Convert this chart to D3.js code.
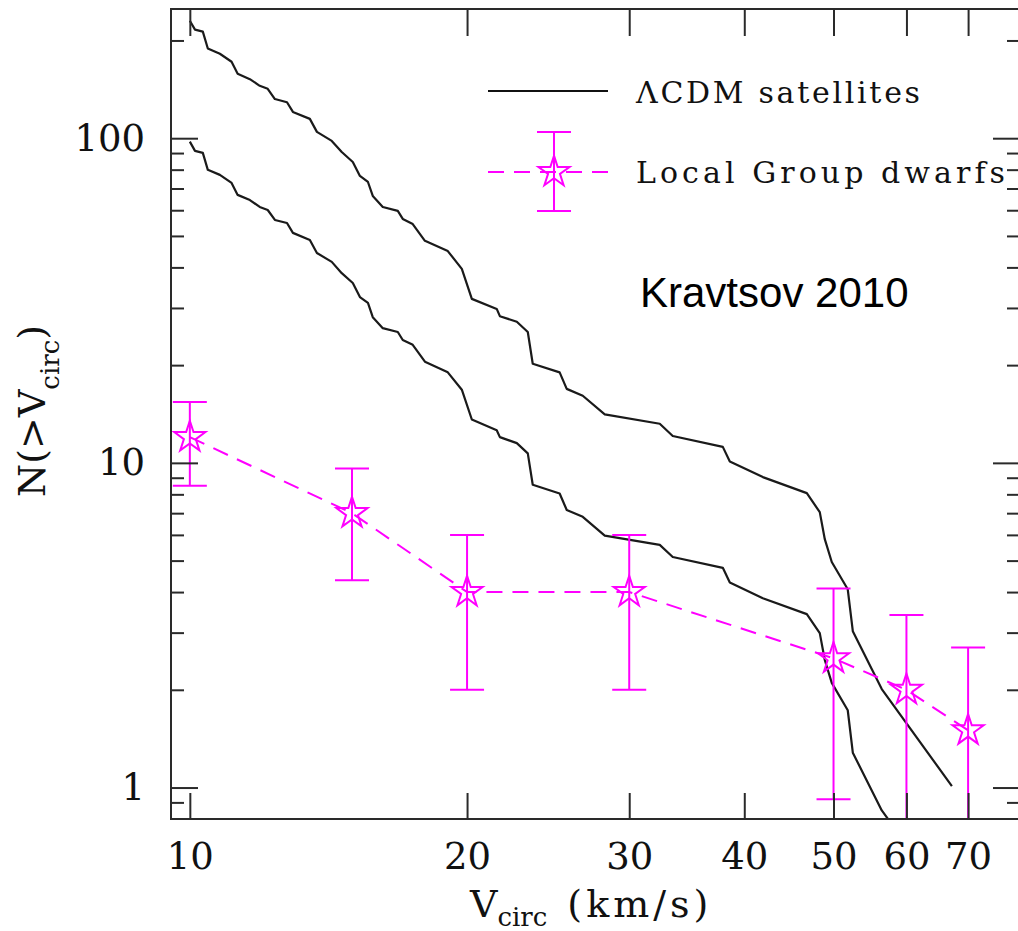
<!DOCTYPE html>
<html>
<head>
<meta charset="utf-8">
<script src="https://cdn.jsdelivr.net/npm/d3@7"></script>
<style>
  html, body { margin: 0; padding: 0; background: #fff; }
  svg { display: block; }
</style>
</head>
<body>
<svg id="chart" width="1018" height="931"></svg>
<script>
// ---------- DATA ----------
const vcircSat = [10.0,10.13,10.33,10.46,10.78,11.10,11.27,11.62,11.91,12.15,12.37,12.75,12.94,13.50,13.74,14.26,14.62,15.03,15.30,15.61,15.80,16.20,16.82,17.03,17.46,18.00,19.06,19.74,20.24,21.54,21.71,22.65,23.28,23.57,25.21,25.66,26.71,28.22,32.38,33.45,37.91,38.58,41.90,46.77,48.31,48.92,49.78,51.81,52.47,56.41,67.22];
const nSatUpper = [230,216,213,189,182,172,158,152,145,142,132,129,120.5,114.7,104.6,98.1,90.7,84.5,76.5,73.3,66.4,61.4,59.7,56.4,54.4,48.3,44.9,39.6,32.0,29.8,28.3,27.2,25.3,20.2,19.0,16.9,16.1,14.1,13.2,12.1,11.2,10.1,9.04,8.07,7.05,5.82,4.95,4.08,3.03,2.01,1.01];
const nSatLower = [97.6,91.4,90.1,79.9,77.1,72.8,66.9,64.5,61.4,60.1,56.0,54.8,51.1,48.6,44.3,41.6,38.4,35.8,32.4,31.1,28.1,26.0,25.3,23.9,23.1,20.5,19.0,16.8,13.6,12.6,12.0,11.5,10.7,8.56,8.05,7.16,6.82,5.97,5.59,5.13,4.75,4.28,3.83,3.42,2.99,2.47,2.10,1.73,1.28,0.85,0.43];

const vcircLG = [10, 15, 20, 30, 50, 60, 70];
const nLG     = [12, 7, 4, 4, 2.5, 2, 1.5];
const nLGHigh = [15.4, 9.6, 6.0, 6.0, 4.1, 3.4, 2.7];
const nLGLow  = [8.5, 4.35, 2.0, 2.0, 0.92, 0.59, 0.28];

const xTickValues = [10, 20, 30, 40, 50, 60, 70];
const yMajorTicks = [1, 10, 100];
const yMinorTicks = [0.9, 2, 3, 4, 5, 6, 7, 8, 9, 20, 30, 40, 50, 60, 70, 80, 90, 200];

const legendLabels = ["\u039BCDM satellites", "Local Group dwarfs"];
const annotation = "Kravtsov 2010";

// ---------- LAYOUT ----------
const L = 171, R = 1020, T = 9, B = 819;
const axisColor = "#2a2a2a";
const magenta = "#ff00ff";
const serif = "'DejaVu Serif', 'Liberation Serif', serif";

const svg = d3.select("#chart");

const x = d3.scaleLog().domain([9.54, 79.7]).range([L, R]);
const y = d3.scaleLog().domain([0.8, 250]).range([B, T]);

svg.append("defs").append("clipPath").attr("id", "plotClip")
  .append("rect").attr("x", L).attr("y", T).attr("width", R - L).attr("height", B - T);

const plot = svg.append("g").attr("clip-path", "url(#plotClip)");

// ΛCDM curves
const line = d3.line().x(d => x(d[0])).y(d => y(d[1]));
[nSatUpper, nSatLower].forEach(arr => {
  plot.append("path")
    .datum(vcircSat.map((v, i) => [v, arr[i]]))
    .attr("d", line)
    .attr("fill", "none")
    .attr("stroke", "#1a1a1a")
    .attr("stroke-width", 2.2)
    .attr("stroke-linejoin", "round");
});

// Local Group dwarfs
const lg = vcircLG.map((v, i) => ({ v, n: nLG[i], hi: nLGHigh[i], lo: nLGLow[i] }));

plot.append("path")
  .datum(lg)
  .attr("d", d3.line().x(d => x(d.v)).y(d => y(d.n)))
  .attr("fill", "none")
  .attr("stroke", magenta)
  .attr("stroke-width", 2)
  .attr("stroke-dasharray", "16,10");

const capHalf = 17;
const eb = plot.append("g").attr("stroke", magenta).attr("stroke-width", 2).attr("fill", "none");
lg.forEach(d => {
  const cx = x(d.v);
  eb.append("line").attr("x1", cx).attr("x2", cx).attr("y1", y(d.hi)).attr("y2", y(d.lo));
  eb.append("line").attr("x1", cx - capHalf).attr("x2", cx + capHalf).attr("y1", y(d.hi)).attr("y2", y(d.hi));
  eb.append("line").attr("x1", cx - capHalf).attr("x2", cx + capHalf).attr("y1", y(d.lo)).attr("y2", y(d.lo));
});

const star = d3.symbol().type(d3.symbolStar).size(300);
plot.selectAll(".star").data(lg).enter().append("path")
  .attr("class", "star")
  .attr("d", star)
  .attr("transform", d => `translate(${x(d.v)},${y(d.n)})`)
  .attr("fill", "none")
  .attr("stroke", magenta)
  .attr("stroke-width", 2);

// ---------- AXES ----------
function styleAxis(g) {
  g.select(".domain").remove();
  g.selectAll(".tick line").attr("stroke", axisColor).attr("stroke-width", 2);
}
// bottom ticks (pointing in)
svg.append("g").attr("transform", `translate(0,${B})`)
  .call(d3.axisTop(x).tickValues(xTickValues).tickSize(26).tickFormat(""))
  .call(styleAxis);
// top ticks
svg.append("g").attr("transform", `translate(0,${T})`)
  .call(d3.axisBottom(x).tickValues(xTickValues).tickSize(27).tickFormat(""))
  .call(styleAxis);
// bottom labels
svg.append("g").attr("transform", `translate(0,${B})`)
  .call(d3.axisBottom(x).tickValues(xTickValues).tickSize(0).tickPadding(24).tickFormat(d3.format("d")))
  .call(g => g.select(".domain").remove())
  .call(g => g.selectAll("text").attr("font-family", serif).attr("font-size", 37).attr("fill", "#111"));

// left major/minor
svg.append("g").attr("transform", `translate(${L},0)`)
  .call(d3.axisRight(y).tickValues(yMajorTicks).tickSize(27).tickFormat(""))
  .call(styleAxis);
svg.append("g").attr("transform", `translate(${L},0)`)
  .call(d3.axisRight(y).tickValues(yMinorTicks).tickSize(13).tickFormat(""))
  .call(styleAxis);
// right major/minor
svg.append("g").attr("transform", `translate(${R},0)`)
  .call(d3.axisLeft(y).tickValues(yMajorTicks).tickSize(27).tickFormat(""))
  .call(styleAxis);
svg.append("g").attr("transform", `translate(${R},0)`)
  .call(d3.axisLeft(y).tickValues(yMinorTicks).tickSize(13).tickFormat(""))
  .call(styleAxis);
// left labels
svg.append("g").attr("transform", `translate(${L},0)`)
  .call(d3.axisLeft(y).tickValues(yMajorTicks).tickSize(0).tickPadding(26).tickFormat(d3.format("d")))
  .call(g => g.select(".domain").remove())
  .call(g => g.selectAll("text").attr("font-family", serif).attr("font-size", 37).attr("fill", "#111"));

// frame
svg.append("rect")
  .attr("x", L).attr("y", T).attr("width", R - L).attr("height", B - T)
  .attr("fill", "none").attr("stroke", axisColor).attr("stroke-width", 2);

// ---------- TITLES ----------
const xt = svg.append("text")
  .attr("x", 470).attr("y", 917)
  .attr("font-family", serif).attr("font-size", 38).attr("fill", "#111");
xt.append("tspan").text("V");
xt.append("tspan").attr("font-size", 26).attr("dy", 9).text("circ");
xt.append("tspan").attr("dy", -9).attr("dx", 20).attr("letter-spacing", 4).text("(km/s)");

const yt = svg.append("text")
  .attr("transform", "translate(45,497) rotate(-90)")
  .attr("font-family", serif).attr("font-size", 38).attr("fill", "#111");
yt.append("tspan").text("N(>V");
yt.append("tspan").attr("font-size", 26).attr("dy", 14).text("circ");
yt.append("tspan").attr("dy", -14).text(")");

// ---------- LEGEND ----------
svg.append("line")
  .attr("x1", 488).attr("x2", 608).attr("y1", 91).attr("y2", 91)
  .attr("stroke", "#111").attr("stroke-width", 2);
svg.append("text")
  .attr("x", 636).attr("y", 103)
  .attr("font-family", serif).attr("font-size", 30).attr("fill", "#111")
  .attr("textLength", 284).attr("lengthAdjust", "spacing")
  .text(legendLabels[0]);

const ly = 172, lx = 554;
svg.append("line")
  .attr("x1", 488).attr("x2", 608).attr("y1", ly).attr("y2", ly)
  .attr("stroke", magenta).attr("stroke-width", 2).attr("stroke-dasharray", "16,10");
const leg = svg.append("g").attr("stroke", magenta).attr("stroke-width", 2);
leg.append("line").attr("x1", lx).attr("x2", lx).attr("y1", 132).attr("y2", 211);
leg.append("line").attr("x1", lx - 17).attr("x2", lx + 17).attr("y1", 132).attr("y2", 132);
leg.append("line").attr("x1", lx - 17).attr("x2", lx + 17).attr("y1", 211).attr("y2", 211);
svg.append("path").attr("d", star).attr("transform", `translate(${lx},${ly})`)
  .attr("fill", "none").attr("stroke", magenta).attr("stroke-width", 2);
svg.append("text")
  .attr("x", 636).attr("y", 183)
  .attr("font-family", serif).attr("font-size", 30).attr("fill", "#111")
  .attr("textLength", 369).attr("lengthAdjust", "spacing")
  .text(legendLabels[1]);

// annotation
svg.append("text")
  .attr("x", 640).attr("y", 307)
  .attr("font-family", "'Liberation Sans', Arial, sans-serif").attr("font-size", 42).attr("fill", "#000")
  .text(annotation);
</script>
</body>
</html>
